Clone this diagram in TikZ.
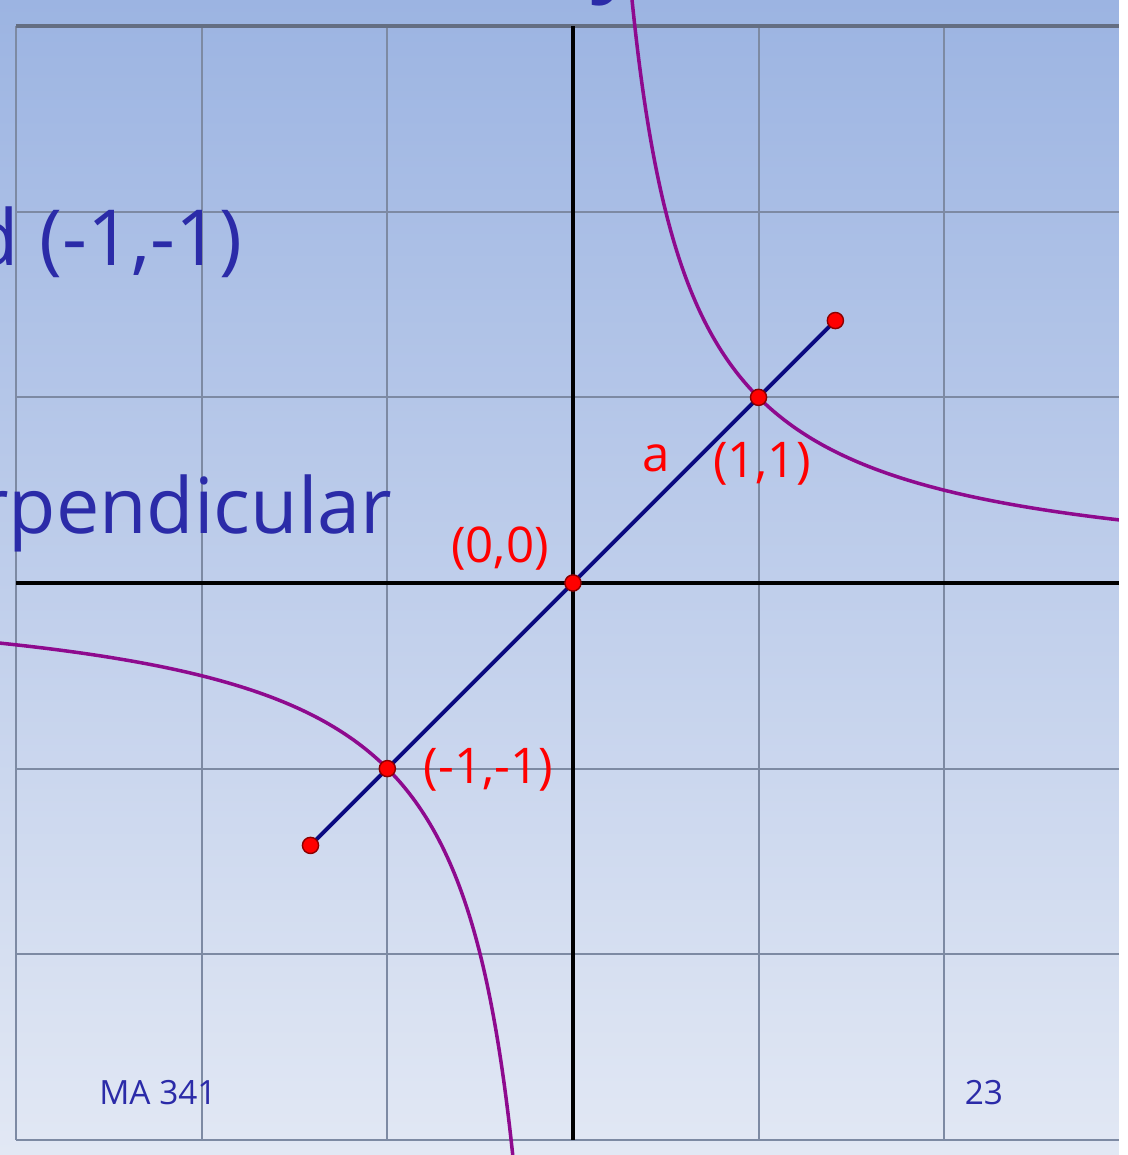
\documentclass[tikz,border=0pt]{standalone}
\usepackage{fontspec}
\setmainfont{Open Sans}
\usepackage{tikz}
\usetikzlibrary{arrows.meta, positioning, calc}
\definecolor{slidetop}{HTML}{9CB4E2}
\definecolor{slidebot}{HTML}{E2E8F4}
\definecolor{slideblue}{HTML}{2B2BA8}
\definecolor{gridgray}{HTML}{7D8AA3}
\definecolor{hypviolet}{HTML}{8E0A8E}
\definecolor{segnavy}{HTML}{0A0A80}
\definecolor{ptred}{HTML}{FF0000}
\definecolor{ptedge}{HTML}{8B0000}

\begin{document}
\begin{tikzpicture}[x=1.856cm, y=1.856cm,
  gridln/.style={gridgray, line width=0.55pt},
  axis/.style={black, line width=1pt},
  hyp/.style={hypviolet, line width=1pt, samples=200, smooth},
  seg/.style={segnavy, line width=1.1pt},
  pt/.style={circle, fill=ptred, draw=ptedge, line width=0.4pt,
    inner sep=0pt, minimum size=4.6pt},
  lbl/.style={ptred, font=\fontsize{14}{16}\selectfont, anchor=base, inner sep=0pt},
  slidetxt/.style={slideblue, font=\fontsize{22}{26}\selectfont,
    anchor=base east, inner sep=0pt},
  foot/.style={slideblue, font=\fontsize{9.5}{11}\selectfont}
]
  \useasboundingbox (-3.087,-3.082) rectangle (2.990,3.141);
  \begin{scope}
    \clip (-3.087,-3.082) rectangle (2.942,3.141);
    \shade[top color=slidetop, bottom color=slidebot]
      (-3.087,-3.082) rectangle (2.942,3.141);

    % Grid
    \foreach \x in {-3,-2,-1,1,2}
      \draw[gridln] (\x,-3) -- (\x,3);
    \foreach \y in {-3,-2,-1,1,2}
      \draw[gridln] (-3,\y) -- (2.942,\y);
    \draw[gridln, line width=1pt, gridgray!80!black] (-3,3) -- (2.942,3);

    % Slide text behind the plot
    \node[slideblue, font=\fontsize{28}{32}\selectfont, anchor=base, inner sep=0pt]
      (ttl) at (0.236,3.235) {y};
    \node[slidetxt] (pts) at (-1.778,1.713) {and (-1,-1)};
    \node[slidetxt] (perp) at (-0.970,0.269) {perpendicular};

    % Axes
    \draw[axis] (-3,0) -- (2.942,0);
    \draw[axis] (0,-3) -- (0,3);

    % Hyperbola xy = 1
    \draw[hyp] plot[domain=0.31:3.1] (\x,{1/\x});
    \draw[hyp] plot[domain=-3.2:-0.31] (\x,{1/\x});

    % Segment on y = x
    \coordinate (em) at (-1.414,-1.414);
    \coordinate (ep) at (1.414,1.414);
    \draw[seg] (em) -- (ep);

    % Points
    \foreach \n/\p in {dm/{-1.414,-1.414}, d1m/{-1,-1}, d0/{0,0},
                       d1/{1,1}, dp/{1.414,1.414}}
      \node[pt] (\n) at (\p) {};

    % Labels
    \node[lbl] (l00) at (-0.393,0.113) {(0,0)};
    \node[lbl] (l11) at (1.018,0.571) {(1,1)};
    \node[lbl] (la) at (0.447,0.598) {a};
    \node[lbl, anchor=base west] (lmm) at (-0.808,-1.078) {(-1,-1)};

    % Footer
    \node[foot] (ma) at (-2.236,-2.748) {MA 341};
    \node[foot] (pg) at (2.214,-2.748) {23};
  \end{scope}
\end{tikzpicture}
\end{document}
